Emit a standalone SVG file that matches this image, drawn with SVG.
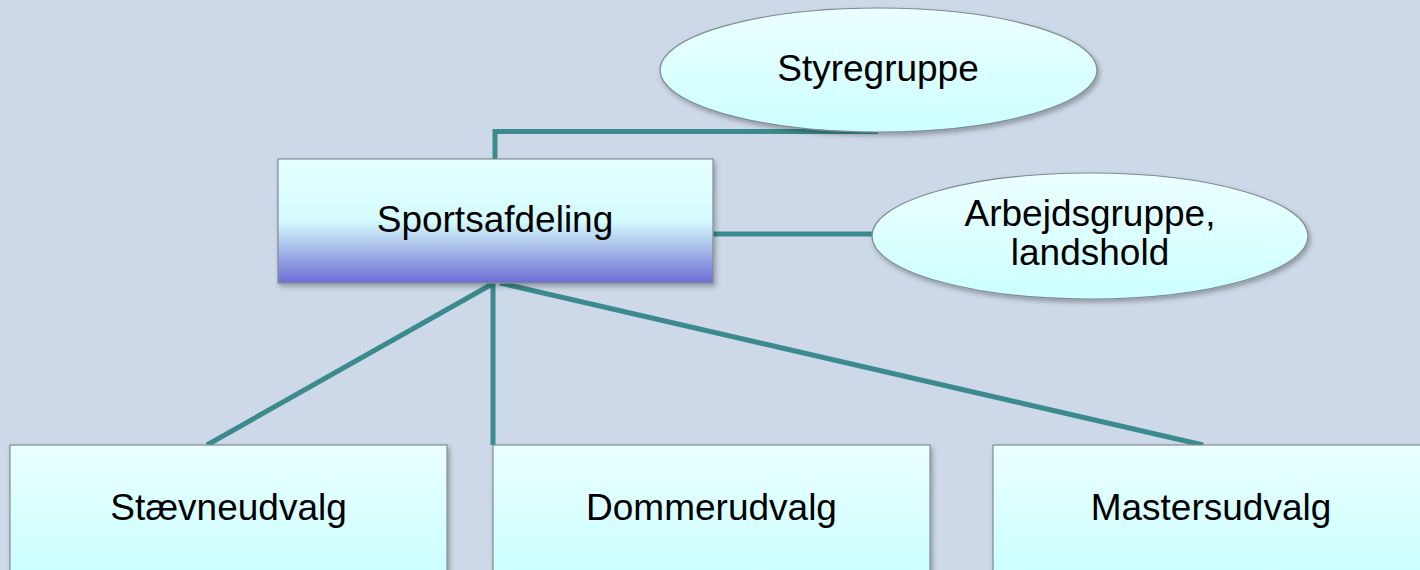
<svg xmlns="http://www.w3.org/2000/svg" width="1420" height="570" viewBox="0 0 1420 570">
  <style>
    .lbl { font-family: "Liberation Sans", Arial, sans-serif; font-size: 37px; fill: #000; text-anchor: middle; }
    .conn { stroke: #3b8b8e; stroke-width: 5; fill: none; }
    .node { stroke: #7f8c95; stroke-width: 1.2; filter: url(#shadow); }
  </style>
  <defs>
    <linearGradient id="cyanGrad" x1="0" y1="0" x2="0" y2="1">
      <stop offset="0" stop-color="#ecffff"/>
      <stop offset="1" stop-color="#ccffff"/>
    </linearGradient>
    <linearGradient id="boxGrad" x1="0" y1="0" x2="0" y2="570" gradientUnits="userSpaceOnUse">
      <stop offset="0.78" stop-color="#ebffff"/>
      <stop offset="1" stop-color="#ccffff"/>
    </linearGradient>
    <linearGradient id="sportGrad" x1="0" y1="0" x2="0" y2="1">
      <stop offset="0" stop-color="#e6ffff"/>
      <stop offset="0.5" stop-color="#d4fbfd"/>
      <stop offset="0.72" stop-color="#a8bdea"/>
      <stop offset="1" stop-color="#6e6cd4"/>
    </linearGradient>
    <filter id="shadow" x="-10%" y="-10%" width="120%" height="130%">
      <feDropShadow dx="2" dy="3" stdDeviation="2.5" flood-color="#000" flood-opacity="0.3"/>
    </filter>
  </defs>
  <rect width="1420" height="570" fill="#cdd9e8"/>

  <g id="connectors">
    <polyline class="conn" points="495,159 495,131.5 878,131.5"/>
    <line class="conn" x1="713" y1="234" x2="873" y2="234"/>
    <line class="conn" x1="493" y1="283" x2="493" y2="445"/>
    <line class="conn" x1="494" y1="283" x2="207" y2="445"/>
    <line class="conn" x1="500" y1="283" x2="1203" y2="445"/>
  </g>

  <g id="styregruppe">
    <ellipse class="node" cx="878.5" cy="70" rx="218.5" ry="62" fill="url(#cyanGrad)"/>
    <text class="lbl" x="878" y="81">Styregruppe</text>
  </g>

  <g id="sportsafdeling">
    <rect class="node" x="278" y="159" width="435" height="124" fill="url(#sportGrad)"/>
    <text class="lbl" x="495" y="232">Sportsafdeling</text>
  </g>

  <g id="arbejdsgruppe">
    <ellipse class="node" cx="1090" cy="236" rx="218" ry="63" fill="url(#cyanGrad)"/>
    <text class="lbl" x="1090" y="226">Arbejdsgruppe,</text>
    <text class="lbl" x="1090" y="265">landshold</text>
  </g>

  <g id="staevneudvalg">
    <rect class="node" x="10" y="445" width="437" height="160" fill="url(#boxGrad)"/>
    <text class="lbl" x="228.5" y="520">Stævneudvalg</text>
  </g>

  <g id="dommerudvalg">
    <rect class="node" x="493" y="445" width="437" height="160" fill="url(#boxGrad)"/>
    <text class="lbl" x="711.5" y="520">Dommerudvalg</text>
  </g>

  <g id="mastersudvalg">
    <rect class="node" x="993" y="445" width="437" height="160" fill="url(#boxGrad)"/>
    <text class="lbl" x="1211" y="520">Mastersudvalg</text>
  </g>
</svg>
